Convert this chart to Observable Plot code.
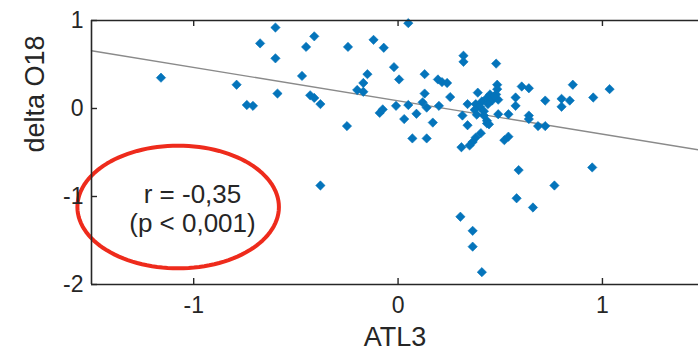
<!DOCTYPE html>
<html><head><meta charset="utf-8">
<script src="https://cdn.jsdelivr.net/npm/d3@7"></script>
<script src="https://cdn.jsdelivr.net/npm/@observablehq/plot@0.6"></script>
<style>body{margin:0;background:#fff;}</style>
</head><body><div id="chart"></div>
<script>
// Scatter data: ATL3 index (x) vs delta O18 (y)
const atl3 = [-1.16,-0.79,-0.74,-0.71,-0.675,-0.60,-0.60,-0.59,-0.47,-0.45,-0.41,-0.43,-0.41,-0.38,-0.38,-0.245,-0.25,-0.12,-0.07,-0.15,-0.17,-0.20,-0.17,-0.09,-0.075,-0.02,0.005,-0.01,0.03,0.05,0.05,0.09,0.13,0.13,0.12,0.14,0.17,0.07,0.14,0.195,0.215,0.24,0.255,0.20,0.32,0.32,0.48,0.39,0.34,0.38,0.41,0.435,0.45,0.46,0.44,0.40,0.375,0.42,0.42,0.435,0.315,0.34,0.49,0.54,0.485,0.485,0.48,0.605,0.64,0.575,0.575,0.72,0.80,0.80,0.84,0.855,0.955,1.035,0.64,0.64,0.685,0.72,0.52,0.54,0.405,0.38,0.365,0.35,0.31,0.435,0.445,0.59,0.95,0.765,0.58,0.66,0.305,0.365,0.365,0.41,0.385,0.49,0.47];
const deltaO18 = [0.35,0.27,0.04,0.03,0.74,0.92,0.57,0.17,0.37,0.70,0.82,0.15,0.12,0.05,-0.875,0.70,-0.20,0.78,0.69,0.39,0.29,0.21,0.19,-0.05,-0.01,0.47,0.33,0.03,-0.12,0.97,0.04,-0.06,0.39,0.17,0.07,0.01,-0.16,-0.34,-0.34,0.33,0.30,0.29,0.13,0.03,0.60,0.53,0.51,0.18,0.05,0.05,0.08,0.12,0.16,0.09,0.05,0.02,-0.015,-0.03,-0.08,-0.14,-0.08,-0.19,-0.065,-0.065,0.27,0.22,0.16,0.25,0.23,0.125,0.03,0.09,0.11,0.02,0.09,0.27,0.125,0.22,-0.08,-0.12,-0.20,-0.20,-0.36,-0.32,-0.28,-0.33,-0.38,-0.42,-0.44,-0.17,-0.18,-0.70,-0.67,-0.875,-1.02,-1.125,-1.23,-1.39,-1.57,-1.86,-0.07,0.10,0.14];

// Regression line end points
const trendX = [-1.5, 1.47];
const trendY = [0.656, -0.47];

// Axis ticks
const xTicks = [-1, 0, 1];
const yTicks = [1, 0, -1, -2];
const xDomain = [-1.5, 1.47];
const yDomain = [-2, 1];

// Annotation
const annoLines = ["r = -0,35", "(p < 0,001)"];
const annoX = [-1.006, -1.006];
const annoY = [-0.977, -1.31];
const ellipseCenter = [-1.076, -1.119];
const ellipseRadii = [0.493, 0.697];

const points = atl3.map((x, i) => ({x, y: deltaO18[i]}));
const trend = trendX.map((x, i) => ({x, y: trendY[i]}));
const anno = annoLines.map((t, i) => ({t, x: annoX[i], y: annoY[i]}));
const ellipse = d3.range(0, 120).map(i => {
  const a = (i / 120) * 2 * Math.PI;
  return {x: ellipseCenter[0] + ellipseRadii[0] * Math.cos(a), y: ellipseCenter[1] + ellipseRadii[1] * Math.sin(a)};
});

const font = "'Liberation Sans', Arial, sans-serif";
const axisColor = "#262626";
const fmt = d => String(d);
const xTickLen = 6 / 88;    // inward tick length in y units
const yTickLen = 6 / 204;   // inward tick length in x units

const chart = Plot.plot({
  width: 698,
  height: 352,
  marginLeft: 91,
  marginRight: 0,
  marginTop: 20,
  marginBottom: 68,
  style: {fontFamily: font, background: "#fff", color: axisColor},
  x: {domain: xDomain, axis: null},
  y: {domain: yDomain, axis: null},
  marks: [
    Plot.line(trend, {x: "x", y: "y", stroke: "#8a8a8a", strokeWidth: 1.4}),
    Plot.dot(points, {x: "x", y: "y", symbol: "diamond2", r: 4.2, fill: "#0474bb", stroke: "#0474bb", strokeWidth: 0.6}),
    Plot.line(ellipse, {x: "x", y: "y", curve: "linear-closed", stroke: "#ee2b1c", strokeWidth: 4}),
    Plot.text(anno, {x: "x", y: "y", text: "t", fontSize: 26, fill: axisColor}),
    // frame
    Plot.ruleX([xDomain[0]], {stroke: axisColor, strokeWidth: 1.6}),
    Plot.ruleY([yDomain[0], yDomain[1]], {stroke: axisColor, strokeWidth: 1.6}),
    // inward ticks
    Plot.ruleX(xTicks, {x: d => d, y1: yDomain[0], y2: yDomain[0] + xTickLen, stroke: axisColor, strokeWidth: 1.4}),
    Plot.ruleX(xTicks, {x: d => d, y1: yDomain[1], y2: yDomain[1] - xTickLen, stroke: axisColor, strokeWidth: 1.4}),
    Plot.ruleY(yTicks, {y: d => d, x1: xDomain[0], x2: xDomain[0] + yTickLen, stroke: axisColor, strokeWidth: 1.4}),
    // tick labels
    Plot.axisX(xTicks, {tickSize: 0, tickPadding: 12, fontSize: 23, fill: axisColor, tickFormat: fmt, label: null}),
    Plot.axisY(yTicks, {tickSize: 0, tickPadding: 8, fontSize: 23, fill: axisColor, tickFormat: fmt, label: null}),
    // axis titles
    Plot.text(["ATL3"], {frameAnchor: "bottom", dy: 61, lineAnchor: "bottom", fontSize: 27, fill: axisColor}),
    Plot.text(["delta O18"], {frameAnchor: "left", dx: -48, rotate: -90, lineAnchor: "bottom", fontSize: 27, fill: axisColor})
  ]
});
document.getElementById("chart").appendChild(chart);
</script>
</body></html>
